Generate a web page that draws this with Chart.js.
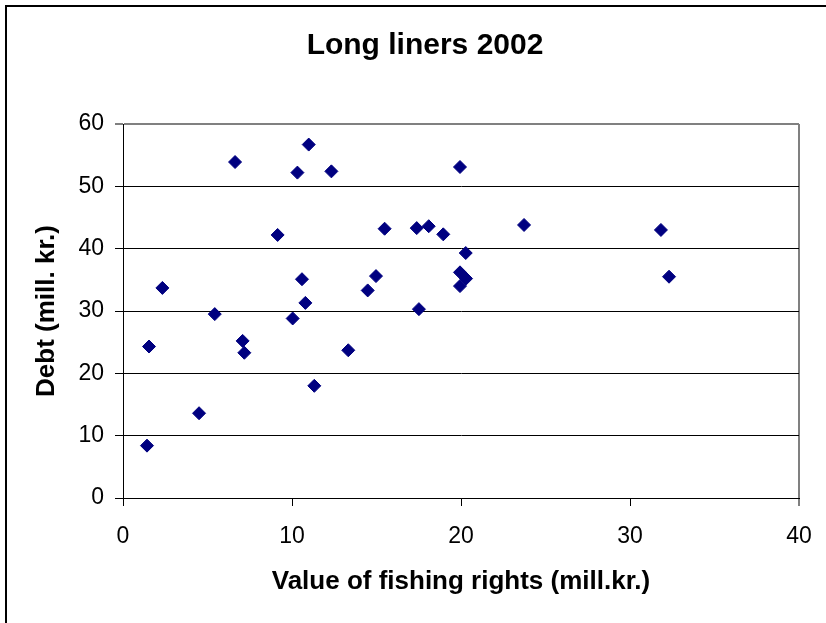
<!DOCTYPE html>
<html>
<head>
<meta charset="utf-8">
<script src="https://cdn.jsdelivr.net/npm/chart.js@4/dist/chart.umd.min.js"></script>
<style>
html,body{margin:0;padding:0;background:#fff;}
canvas{display:block;}
</style>
</head>
<body>
<canvas id="c" width="826" height="623"></canvas>
<script>
const chartTitle = "Long liners 2002";
const xAxisTitle = "Value of fishing rights (mill.kr.)";
const yAxisTitle = "Debt (mill. kr.)";
const xValues = [1.42, 1.54, 2.33, 4.5, 5.43, 6.63, 7.08, 7.18, 9.15, 10.04, 10.32, 10.59, 10.79, 10.99, 11.32, 12.33, 13.33, 14.48, 14.97, 15.48, 17.38, 17.51, 18.09, 18.95, 19.94, 19.94, 20.30, 19.94, 20.28, 23.73, 31.83, 32.31];
const yValues = [8.4, 24.3, 33.7, 13.6, 29.5, 53.9, 25.2, 23.3, 42.2, 28.8, 52.2, 35.1, 31.3, 56.7, 18.0, 52.4, 23.7, 33.3, 35.6, 43.2, 43.3, 30.3, 43.6, 42.3, 53.1, 36.2, 35.2, 34.0, 39.3, 43.8, 43.0, 35.5];
const xTicks = [0, 10, 20, 30, 40];
const yTicks = [0, 10, 20, 30, 40, 50, 60];

const points = xValues.map((x, i) => ({x: x, y: yValues[i]}));
const FONT = "'Liberation Sans', Arial, sans-serif";

const frame = {
  id: 'frame',
  beforeDraw(chart) {
    const ctx = chart.ctx;
    ctx.save();
    ctx.fillStyle = '#fff';
    ctx.fillRect(0, 0, chart.width, chart.height);
    ctx.strokeStyle = '#000';
    ctx.lineWidth = 2;
    ctx.strokeRect(6, 6, chart.width + 20, chart.height + 20);
    ctx.restore();
  }
};

new Chart(document.getElementById('c'), {
  type: 'scatter',
  data: {
    datasets: [{
      data: points,
      pointStyle: 'rectRot',
      pointRadius: 6.5,
      pointHoverRadius: 6.5,
      pointBorderWidth: 1,
      backgroundColor: '#000080',
      borderColor: '#000080'
    }]
  },
  options: {
    responsive: false,
    animation: false,
    events: [],
    layout: { padding: { left: 51, top: 6, right: 27, bottom: 0 } },
    plugins: {
      legend: { display: false },
      tooltip: { enabled: false },
      title: {
        display: true,
        text: chartTitle,
        color: '#000',
        font: { family: FONT, size: 30, weight: 'bold', lineHeight: 1.2 },
        padding: { top: 22, bottom: 60 }
      }
    },
    scales: {
      x: {
        type: 'linear',
        min: xTicks[0],
        max: xTicks[xTicks.length - 1],
        afterFit(s) { s.height = 125; s.paddingLeft = 0; s.paddingRight = 0; },
        afterBuildTicks(s) { s.ticks = xTicks.map(v => ({value: v})); },
        ticks: { color: '#000', font: { family: FONT, size: 23 }, padding: 17, maxRotation: 0 },
        grid: {
          drawOnChartArea: true,
          drawTicks: true,
          tickLength: 8,
          color: c => (c.tick && c.tick.value === 40) ? '#808080' : 'rgba(0,0,0,0)',
          lineWidth: c => (c.tick && c.tick.value === 40) ? 2 : 1,
          tickColor: '#000',
          tickWidth: 1
        },
        border: { display: true, color: '#000', width: 1 },
        title: {
          display: true,
          text: xAxisTitle,
          color: '#000',
          font: { family: FONT, size: 26, weight: 'bold', lineHeight: 1.2 },
          padding: { top: 0, bottom: 26 }
        }
      },
      y: {
        type: 'linear',
        min: yTicks[0],
        max: yTicks[yTicks.length - 1],
        afterFit(s) { s.width = 72; },
        afterBuildTicks(s) { s.ticks = yTicks.map(v => ({value: v})); },
        ticks: { color: '#000', font: { family: FONT, size: 23 }, padding: 11 },
        grid: {
          drawTicks: true,
          tickLength: 8,
          color: c => (c.tick && c.tick.value === 60) ? '#808080' : '#000',
          lineWidth: c => (c.tick && c.tick.value === 60) ? 2 : 1,
          tickColor: '#000',
          tickWidth: 1
        },
        border: { display: true, color: '#000', width: 1 },
        title: {
          display: true,
          text: yAxisTitle,
          color: '#000',
          font: { family: FONT, size: 26, weight: 'bold', lineHeight: 1.2 },
          padding: { top: -19.6, bottom: 0 }
        }
      }
    }
  },
  plugins: [frame]
});
</script>
</body>
</html>
